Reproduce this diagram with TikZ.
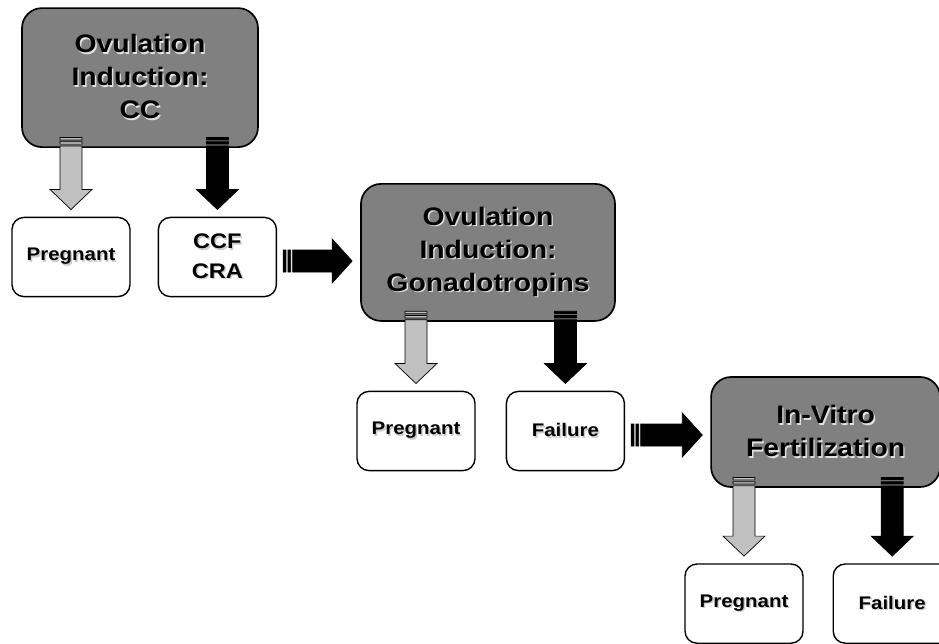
\documentclass[tikz,border=0pt]{standalone}
\usepackage{fontspec}
\setmainfont[FakeStretch=1.12]{Liberation Sans}
\usetikzlibrary{positioning, calc}
\definecolor{boxgray}{RGB}{128,128,128}
\definecolor{arrowgray}{RGB}{192,192,192}
\definecolor{shadowgray}{RGB}{225,225,225}

% text with a light drop shadow
\newcommand{\shd}[2][shadowgray]{\leavevmode\rlap{\kern1pt\raisebox{-1pt}{\textcolor{#1}{#2}}}#2}

% striped block arrow pointing down, from stage #2 to result #3
\newcommand{\dnarrow}[3]{%
  \draw[blockarrow, fill=#1] let \p1=(#2.south), \p2=(#3.north) in
    (\x2-0.275cm,\y1+0.26cm) rectangle (\x2+0.275cm,\y1+0.2cm)
    (\x2-0.275cm,\y1+0.155cm) rectangle (\x2+0.275cm,\y1+0.095cm)
    (\x2-0.275cm,\y1+0.05cm) -- (\x2+0.275cm,\y1+0.05cm) -- (\x2+0.275cm,\y2+0.68cm)
    -- (\x2+0.525cm,\y2+0.68cm) -- (\x2,\y2+0.18cm) -- (\x2-0.525cm,\y2+0.68cm)
    -- (\x2-0.275cm,\y2+0.68cm) -- cycle;
}
% striped block arrow pointing right, from result #1 to stage #2
\newcommand{\rtarrow}[2]{%
  \draw[blockarrow, fill=black] let \p1=(#1.east), \p2=(#2.west) in
    (\x1+0.15cm,\y1-0.375cm) rectangle (\x1+0.22cm,\y1+0.175cm)
    (\x1+0.27cm,\y1-0.375cm) rectangle (\x1+0.34cm,\y1+0.175cm)
    (\x1+0.39cm,\y1-0.375cm) -- (\x1+0.39cm,\y1+0.175cm) -- (\x2-0.7cm,\y1+0.175cm)
    -- (\x2-0.7cm,\y1+0.45cm) -- (\x2-0.2cm,\y1-0.1cm) -- (\x2-0.7cm,\y1-0.65cm)
    -- (\x2-0.7cm,\y1-0.375cm) -- cycle;
}

\begin{document}
\begin{tikzpicture}[
    stage/.style={rectangle, draw=black, line width=1.2pt, fill=boxgray, rounded corners=0.5cm,
                  align=center, inner sep=0pt, font=\fontsize{18}{23.5}\selectfont\bfseries},
    result/.style={rectangle, draw=black, line width=1pt, fill=white, rounded corners=0.3cm,
                   minimum width=2.95cm, minimum height=1.98cm, align=center,
                   font=\fontsize{13}{16}\selectfont\bfseries},
    blockarrow/.style={draw=black, line width=0.5pt, line join=miter}
]
\useasboundingbox (0,0) rectangle (23.475,-16.075);

\node[stage, minimum width=5.9cm, minimum height=3.475cm] (cc) at (3.5,-1.94)
    {\shd{Ovulation}\\\shd{Induction:}\\\shd{CC}};
\node[stage, minimum width=6.35cm, minimum height=3.425cm] (gonado) at (12.2,-6.31)
    {\shd{Ovulation}\\\shd{Induction:}\\\shd{Gonadotropins}};
\node[stage, minimum width=5.725cm, minimum height=2.75cm] (ivf) at (20.64,-10.8)
    {\shd{In-Vitro}\\\shd{Fertilization}};

\node[result] (preg1) at (1.775,-6.425) {\shd[gray!40]{Pregnant}};
\node[result, right=0.675cm of preg1, font=\fontsize{15}{21}\selectfont\bfseries] (ccf)
    {\shd[gray!40]{CCF}\\\shd[gray!40]{CRA}};
\node[result] (preg2) at (10.4,-10.775) {\shd[gray!40]{Pregnant}};
\node[result, right=0.75cm of preg2] (fail2) {\shd[gray!40]{Failure}};
\node[result] (preg3) at (18.6,-15.09) {\shd[gray!40]{Pregnant}};
\node[result, right=0.72cm of preg3] (fail3) {\shd[gray!40]{Failure}};

\dnarrow{arrowgray}{cc}{preg1}
\dnarrow{black}{cc}{ccf}
\dnarrow{arrowgray}{gonado}{preg2}
\dnarrow{black}{gonado}{fail2}
\dnarrow{arrowgray}{ivf}{preg3}
\dnarrow{black}{ivf}{fail3}

\rtarrow{ccf}{gonado}
\rtarrow{fail2}{ivf}
\end{tikzpicture}
\end{document}
